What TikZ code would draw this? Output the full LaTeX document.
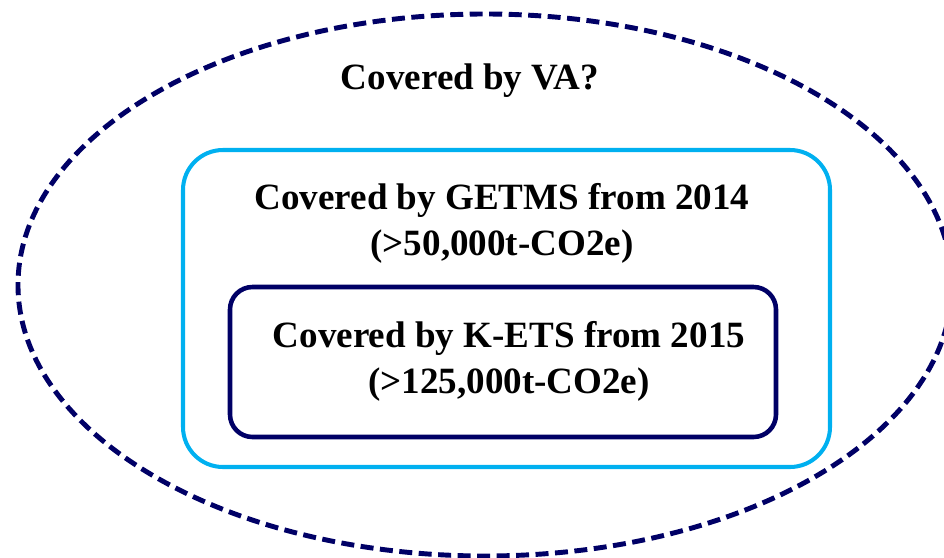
\documentclass[tikz,border=0pt]{standalone}
\usepackage{fontspec}
\setmainfont{Liberation Serif}
\usetikzlibrary{positioning}

\definecolor{vanavy}{RGB}{0,0,102}
\definecolor{getmsblue}{RGB}{0,176,240}
\definecolor{ketsnavy}{RGB}{0,0,102}

\begin{document}
\begin{tikzpicture}[
    x=0.02cm, y=-0.02cm,
    valine/.style={draw=vanavy, line width=2.8pt, dash pattern=on 0.26cm off 0.13cm},
    getmsline/.style={draw=getmsblue, line width=2.3pt, rounded corners=0.8cm},
    ketsline/.style={draw=ketsnavy, line width=2.6pt, rounded corners=0.45cm},
    label/.style={font=\fontsize{21.1}{26.1}\selectfont\bfseries, align=center, anchor=base, inner sep=0pt}
]
\useasboundingbox (0,0) rectangle (944,558);
\clip (0,0) rectangle (944,558);

% outer dashed ellipse
\draw[valine] (485,285) ellipse [x radius=467, y radius=271];
\node[label] (va) at (470,89) {Covered by VA?};

% GETMS box
\draw[getmsline] (183,150) rectangle (830,467);
\node[label] (getms) at (502,255) {Covered by GETMS from 2014\\(>50,000t-CO2e)};

% K-ETS box
\draw[ketsline] (230,287) rectangle (776,437);
\node[label] (kets) at (509,393) {Covered by K-ETS from 2015\\(>125,000t-CO2e)};
\end{tikzpicture}
\end{document}
